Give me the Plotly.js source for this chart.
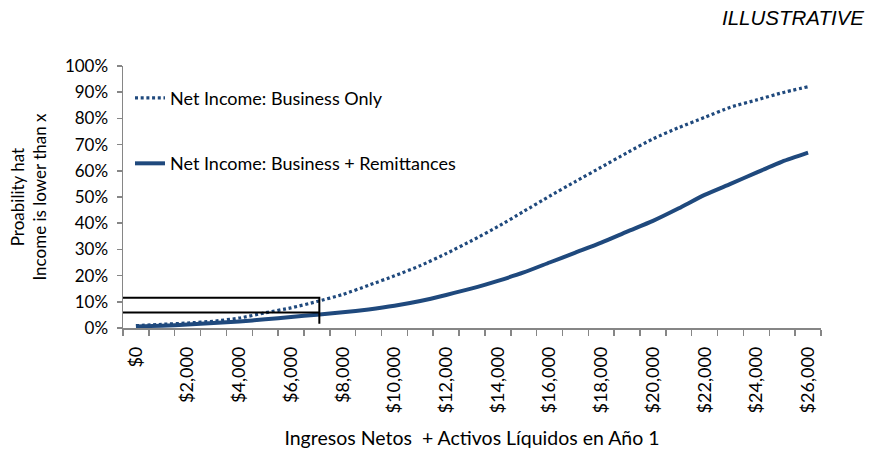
<!DOCTYPE html>
<html>
<head>
<meta charset="utf-8">
<script src="https://cdn.plot.ly/plotly-3.0.1.min.js"></script>
<style>html,body{margin:0;padding:0;background:#fff;}#chart{width:869px;height:449px;}</style>
</head>
<body>
<div id="chart"></div>
<script>
// Categories: income + liquid assets in year 1 (USD)
const incomeLevels = [0,1000,2000,3000,4000,5000,6000,7000,8000,9000,10000,11000,12000,13000,14000,15000,16000,17000,18000,19000,20000,21000,22000,23000,24000,25000,26000];
// Probability that income is lower than x
const businessOnly = [0.009,0.014,0.019,0.026,0.038,0.058,0.077,0.101,0.128,0.163,0.199,0.238,0.284,0.334,0.387,0.445,0.503,0.559,0.614,0.669,0.722,0.765,0.804,0.843,0.870,0.898,0.921];
const businessRemit = [0.006,0.009,0.013,0.019,0.025,0.033,0.042,0.051,0.060,0.071,0.085,0.103,0.126,0.151,0.180,0.212,0.250,0.288,0.326,0.368,0.409,0.457,0.508,0.550,0.593,0.635,0.669];
// Highlight box (threshold income and the two probabilities)
const boxIncome = 7095;
const boxProbs = [0.1155, 0.0595, 0.016];
// Tick labels
const xTickVals = [0,2000,4000,6000,8000,10000,12000,14000,16000,18000,20000,22000,24000,26000];
const xTickText = ["$0","$2,000","$4,000","$6,000","$8,000","$10,000","$12,000","$14,000","$16,000","$18,000","$20,000","$22,000","$24,000","$26,000"];
const catBounds = [];
for (let i = 0; i <= incomeLevels.length; i++) catBounds.push(incomeLevels[0] - 500 + i * 1000);
const seriesNames = ["Net Income: Business Only", "Net Income: Business + Remittances"];

const blue = "#1F497D";
const font = "Lato, 'Liberation Sans', sans-serif";
const axisGrey = "#868686";

const traces = [
  {x: incomeLevels, y: businessOnly, type: "scatter", mode: "lines", name: seriesNames[0],
   line: {color: blue, width: 3.2, dash: "3px,2.7px", shape: "spline", smoothing: 0.6}, legend: "legend"},
  {x: incomeLevels, y: businessRemit, type: "scatter", mode: "lines", name: seriesNames[1],
   line: {color: blue, width: 4, shape: "spline", smoothing: 0.6}, legend: "legend2"},
  {x: [catBounds[0], boxIncome, boxIncome, catBounds[0]], y: [boxProbs[0], boxProbs[0], boxProbs[2], null],
   type: "scatter", mode: "lines", line: {color: "#000", width: 2}, showlegend: false, hoverinfo: "skip"},
  {x: [catBounds[0], boxIncome], y: [boxProbs[1], boxProbs[1]],
   type: "scatter", mode: "lines", line: {color: "#000", width: 2}, showlegend: false, hoverinfo: "skip"}
];

const layout = {
  width: 869, height: 449,
  margin: {l: 123.3, r: 48, t: 66, b: 121},
  paper_bgcolor: "#fff", plot_bgcolor: "#fff",
  font: {family: font, size: 17, color: "#000"},
  xaxis: {
    range: [catBounds[0], catBounds[catBounds.length - 1]],
    tickmode: "array", tickvals: xTickVals, ticktext: xTickText,
    tickangle: -90, ticks: "", ticklen: 0, ticklabelstandoff: 10,
    showline: true, linecolor: axisGrey, linewidth: 1.5,
    showgrid: false, zeroline: false,
    tickfont: {family: font, size: 18, color: "#000"},
    minor: {tickmode: "array", tickvals: catBounds, ticks: "outside", ticklen: 6, tickcolor: axisGrey, tickwidth: 1.5, showgrid: false},
    title: {text: "Ingresos Netos\u00a0 + Activos Líquidos en Año 1", font: {family: font, size: 19.5, color: "#000"}, standoff: 24},
    fixedrange: true
  },
  yaxis: {
    range: [0, 1], dtick: 0.1, tick0: 0, tickformat: ".0%",
    ticks: "outside", ticklen: 5, tickcolor: axisGrey, tickwidth: 1.5, ticklabelstandoff: 5,
    showline: true, linecolor: axisGrey, linewidth: 1.5,
    showgrid: false, zeroline: false,
    tickfont: {family: font, size: 17, color: "#000"},
    title: {text: "Proability hat<br>Income is lower than x", font: {family: font, size: 17, color: "#000"}, standoff: 14},
    fixedrange: true
  },
  legend: {x: 0.01, y: 0.948, xanchor: "left", yanchor: "top", bgcolor: "rgba(0,0,0,0)", borderwidth: 0,
           font: {family: font, size: 18, color: "#000"}},
  legend2: {x: 0.01, y: 0.698, xanchor: "left", yanchor: "top", bgcolor: "rgba(0,0,0,0)", borderwidth: 0,
           font: {family: font, size: 18, color: "#000"}},
  annotations: [
    {text: "<i>ILLUSTRATIVE</i>", xref: "paper", yref: "paper", x: 1.065, y: 1.187, xanchor: "right", yanchor: "middle",
     showarrow: false, font: {family: "'Liberation Sans', Arial, sans-serif", size: 20.5, color: "#000"}}
  ],
  showlegend: true
};

Plotly.newPlot("chart", traces, layout, {displayModeBar: false, staticPlot: true});
</script>
</body>
</html>
